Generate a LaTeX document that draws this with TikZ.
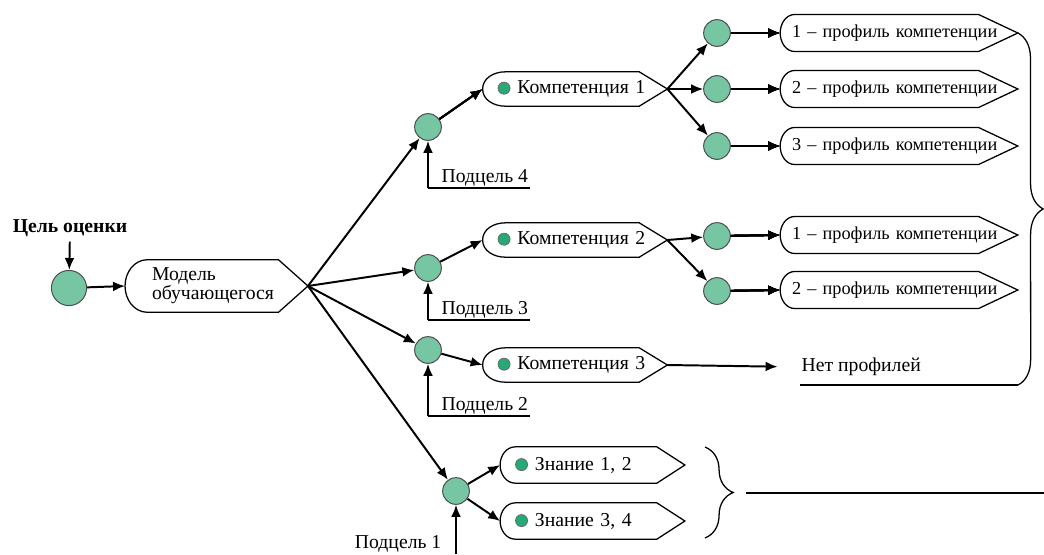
\documentclass[tikz,border=0pt]{standalone}
\usepackage{fontspec}
\setmainfont{Liberation Serif}
\usetikzlibrary{decorations.pathreplacing,positioning,arrows.meta}
\definecolor{circgreen}{RGB}{118,198,164}
\definecolor{dotgreen}{RGB}{40,168,118}
% outline of a display node: node, depth of the round left end, depth of the right point
\newcommand{\dispframe}[3]{%
  \draw[frame] ([xshift=#2]#1.south west) -- ([xshift=-#3]#1.south east) -- (#1.east)
    -- ([xshift=-#3]#1.north east) -- ([xshift=#2]#1.north west)
    to[out=180,in=90] (#1.west) to[out=-90,in=180] ([xshift=#2]#1.south west);}
\newcommand{\gdot}{\tikz[baseline=-0.6ex]\draw[fill=dotgreen,draw=black!60,line width=0.5pt] (0,0) circle (4.3pt);\hspace{5pt}}

\begin{document}
\begin{tikzpicture}[x=0.025cm,y=0.025cm,>={Latex[length=8.5pt,width=7pt]},font=\fontsize{14}{16}\selectfont]
			\tikzset{goal/.style={circle,draw=black!70,fill=circgreen,minimum size=19pt,inner sep=0pt,line width=0.7pt}}
			\tikzset{start/.style={goal,minimum size=25pt}}
			\tikzset{disp/.style={inner ysep=0pt,align=left}}
			\tikzset{comp/.style={disp,minimum height=24pt,text width=110pt,inner xsep=10.5pt}}
			\tikzset{know/.style={disp,minimum height=25.5pt,text width=110pt,inner xsep=10.5pt}}
			\tikzset{prof/.style={disp,minimum height=26pt,text width=152pt,inner xsep=8.3pt,font=\fontsize{13}{15}\selectfont}}
			\tikzset{sub/.style={inner sep=1pt,anchor=base west}}
			\tikzset{arr/.style={->,line width=1.4pt}}
			\tikzset{frame/.style={line width=0.9pt}}
			\useasboundingbox (0,0) rectangle (1044,-554);
			% start
			\node[font=\fontsize{14}{16}\selectfont\bfseries] (title) at (70,-228) {Цель оценки};
			\node[start] (c0) at (69,-288) {};
			\node[disp,minimum height=37pt,text width=91.7pt,inner xsep=19pt,
			      font=\fontsize{14}{12.5}\selectfont] (model) at (216.5,-286) {Модель\\обучающегося};
			\dispframe{model}{16pt}{21pt}
			\draw[arr] (title) -- (c0);
			\draw[arr] (c0) -- (model.west);
			% subgoals
			\node[goal] (g4) at (428,-127) {};
			\node[goal] (g3) at (428,-268) {};
			\node[goal] (g2) at (428,-350) {};
			\node[goal] (g1) at (456,-491) {};
			\foreach \g in {g4,g3,g2,g1}
				\draw[arr] (model.east) -- (\g);
			\coordinate (s4c) at (428,-188);
			\coordinate (s3c) at (428,-320);
			\coordinate (s2c) at (428,-416);
			\coordinate (s1c) at (456,-554);
			\node[sub] (s4) at (440,-182) {Подцель 4};
			\node[sub] (s3) at (440,-314) {Подцель 3};
			\node[sub] (s2) at (440,-410) {Подцель 2};
			\node[sub,anchor=base east] (s1) at (443,-548) {Подцель 1};
			\draw[arr] (s4c) -- (g4); \draw[line width=1pt] (s4c) -- (s4c -| s4.east);
			\draw[arr] (s3c) -- (g3); \draw[line width=1pt] (s3c) -- (s3c -| s3.east);
			\draw[arr] (s2c) -- (g2); \draw[line width=1pt] (s2c) -- (s2c -| s2.east);
			\draw[arr] (s1c) -- (g1);
			% competences
			\node[comp] (k1) at (575,-89) {\gdot Компетенция 1};
			\node[comp] (k2) at (575,-240) {\gdot Компетенция 2};
			\node[comp] (k3) at (575,-365) {\gdot Компетенция 3};
			\foreach \k in {k1,k2,k3}
				\dispframe{\k}{16pt}{20pt}
			\draw[arr] (g4) -- (k1.west);
			\draw[arr] (g3) -- (k2.west);
			\draw[arr] (g2) -- (k3.west);
			% knowledge
			\node[know] (z1) at (592.5,-465) {\gdot Знание 1, 2};
			\node[know] (z2) at (592.5,-521) {\gdot Знание 3, 4};
			\dispframe{z1}{11pt}{20pt}
			\dispframe{z2}{11pt}{20pt}
			\draw[arr] (g1) -- (z1.west);
			\draw[arr] (g1) -- (z2.west);
			% profiles
			\node[goal] (p11) at (717,-33) {};
			\node[goal] (p12) at (717,-89) {};
			\node[goal] (p13) at (717,-146) {};
			\node[goal] (p21) at (717,-236) {};
			\node[goal] (p22) at (717,-291) {};
			\node[prof] (pr11) at (899,-33) {1 -- профиль компетенции};
			\node[prof] (pr12) at (899,-89) {2 -- профиль компетенции};
			\node[prof] (pr13) at (899,-146) {3 -- профиль компетенции};
			\node[prof] (pr21) at (899,-235) {1 -- профиль компетенции};
			\node[prof] (pr22) at (899,-290) {2 -- профиль компетенции};
			\foreach \p in {pr11,pr12,pr13,pr21,pr22}
				\dispframe{\p}{10.6pt}{28pt}
			\foreach \c/\p in {p11/pr11,p12/pr12,p13/pr13,p21/pr21,p22/pr22}
				\draw[arr] (\c) -- (\p.west);
			\foreach \c in {p11,p12,p13}
				\draw[arr] (k1.east) -- (\c);
			\foreach \c in {p21,p22}
				\draw[arr] (k2.east) -- (\c);
			\node[inner sep=1pt,anchor=west] (none) at (800,-367) {Нет профилей};
			\draw[arr,shorten >=16pt] (k3.east) -- (none.west);
			% braces
			\coordinate (bb) at (1018,-385);
			\coordinate (nb) at (800,-385);
			\draw[frame,decorate,decoration={brace,amplitude=18pt}] (pr11.east) -- (bb);
			\draw[frame] (bb) -- (nb);
			\coordinate (zt) at (705,-447);
			\coordinate (zb) at (705,-538);
			\draw[frame,decorate,decoration={brace,amplitude=20pt}] (zt) -- (zb);
			\coordinate (zl) at (746,-493);
			\coordinate (zr) at (1044,-493);
			\draw[line width=1.2pt] (zl) -- (zr);
		\end{tikzpicture}
\end{document}
